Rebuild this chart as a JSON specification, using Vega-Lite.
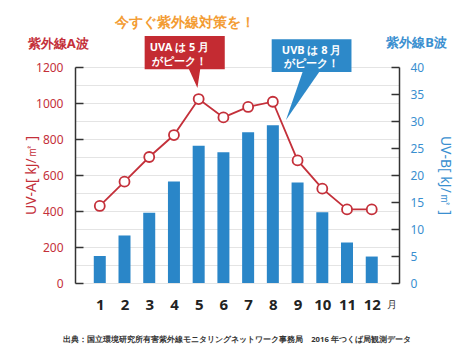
{
  "$schema": "https://vega.github.io/schema/vega-lite/v6.json",
  "width": 324,
  "height": 216,
  "autosize": {"type": "none"},
  "padding": {"left": 75, "top": 67, "right": 75, "bottom": 72},
  "background": "white",
  "config": {
    "font": "Noto Sans",
    "view": {"stroke": null},
    "axisX": {"domain": false, "ticks": false, "grid": false, "labelFontSize": 15, "labelFontWeight": "bold", "labelColor": "#222", "labelPadding": 14, "labelOverlap": false},
    "axisY": {"labelOverlap": false, "format": "d"}
  },
  "datasets": {
    "uv": [
      {"m": 1, "uva": 428, "uvb": 5.0},
      {"m": 2, "uva": 563, "uvb": 8.8},
      {"m": 3, "uva": 700, "uvb": 13.0},
      {"m": 4, "uva": 822, "uvb": 18.8},
      {"m": 5, "uva": 1022, "uvb": 25.4},
      {"m": 6, "uva": 920, "uvb": 24.2},
      {"m": 7, "uva": 978, "uvb": 27.9},
      {"m": 8, "uva": 1007, "uvb": 29.2},
      {"m": 9, "uva": 681, "uvb": 18.6},
      {"m": 10, "uva": 524, "uvb": 13.1},
      {"m": 11, "uva": 409, "uvb": 7.5},
      {"m": 12, "uva": 409, "uvb": 4.9}
    ],
    "one": [{"k": 1}]
  },
  "resolve": {"scale": {"y": "independent"}},
  "layer": [
    {
      "data": {"name": "uv"},
      "mark": {"type": "bar", "size": 12, "color": "#2a86c8"},
      "encoding": {
        "x": {"field": "m", "type": "quantitative", "title": null,
              "scale": {"domain": [0.2, 12.9], "nice": false, "zero": false},
              "axis": {"values": [1,2,3,4,5,6,7,8,9,10,11,12], "tickCount": 30, "format": "d", "labelOverlap": false, "labelFlush": false}},
        "y": {"field": "uvb", "type": "quantitative",
              "scale": {"domain": [0, 40], "nice": false},
              "axis": {"orient": "right", "values": [0,5,10,15,20,25,30,35,40], "tickCount": 30, "format": "d", "grid": false,
                       "labelOverlap": false, "labelFlush": false,
                       "tickSize": -8, "tickColor": "#333", "tickWidth": 1.5,
                       "domainColor": "#333", "domainWidth": 1.5,
                       "labelColor": "#3a8fd0", "labelFontSize": 12, "labelPadding": 19,
                       "title": "UV-B[ kJ/㎡ ]", "titleColor": "#3a8fd0", "titleFontSize": 14,
                       "titleFontWeight": "normal", "titlePadding": 14}}
      }
    },
    {
      "layer": [
        {
          "data": {"name": "uv"},
          "mark": {"type": "line", "color": "#c4303a", "strokeWidth": 1.8},
          "encoding": {
            "x": {"field": "m", "type": "quantitative", "title": null, "scale": {"domain": [0.2, 12.9], "nice": false, "zero": false}},
            "y": {"field": "uva", "type": "quantitative",
                  "scale": {"domain": [0, 1200], "nice": false},
                  "axis": {"orient": "left", "values": [0,100,200,300,400,500,600,700,800,900,1000,1100,1200], "tickCount": 30, "format": "d",
                           "labelExpr": "datum.value % 200 === 0 ? datum.label : ''",
                           "labelOverlap": false, "labelFlush": false,
                           "grid": true, "gridColor": "#e4e4e4", "gridWidth": 1,
                           "tickOpacity": {"condition": {"test": "datum.value % 200 === 0", "value": 1}, "value": 0},
                           "tickSize": -8, "tickColor": "#333", "tickWidth": 1.5,
                           "domainColor": "#333", "domainWidth": 1.5,
                           "labelColor": "#c4303a", "labelFontSize": 12, "labelPadding": 20,
                           "title": "UV-A[ kJ/㎡ ]", "titleColor": "#c4303a", "titleFontSize": 14,
                           "titleFontWeight": "normal", "titlePadding": -3}}
          }
        },
        {
          "data": {"name": "uv"},
          "mark": {"type": "point", "filled": true, "fill": "white", "stroke": "#c4303a", "strokeWidth": 1.8, "size": 100, "opacity": 1},
          "encoding": {
            "x": {"field": "m", "type": "quantitative", "scale": {"domain": [0.2, 12.9], "nice": false, "zero": false}},
            "y": {"field": "uva", "type": "quantitative", "scale": {"domain": [0, 1200], "nice": false}}
          }
        },
        {
          "data": {"name": "one"},
          "mark": {"type": "rect", "color": "#c42b32"},
          "encoding": {
            "x": {"datum": 2.815, "type": "quantitative"},
            "x2": {"datum": 6.055},
            "y": {"datum": 1372, "type": "quantitative"},
            "y2": {"datum": 1187}
          }
        },
        {
          "data": {"name": "one"},
          "mark": {"type": "point", "filled": true, "color": "#c42b32", "opacity": 1, "size": 361, "shape": "M-0.63,-1.1 L0.63,-1.1 L0.32,1 Z"},
          "encoding": {
            "x": {"datum": 4.827, "type": "quantitative"},
            "y": {"datum": 1136, "type": "quantitative"}
          }
        },
        {
          "data": {"name": "one"},
          "mark": {"type": "rect", "color": "#2d89c9"},
          "encoding": {
            "x": {"datum": 7.953, "type": "quantitative"},
            "x2": {"datum": 11.18},
            "y": {"datum": 1354, "type": "quantitative"},
            "y2": {"datum": 1172}
          }
        },
        {
          "data": {"name": "one"},
          "mark": {"type": "point", "filled": true, "color": "#2d89c9", "opacity": 1, "size": 2304, "shape": "M0,-1.05 L0.71,-1.05 L-0.71,1 Z"},
          "encoding": {
            "x": {"datum": 9.22, "type": "quantitative"},
            "y": {"datum": 1039, "type": "quantitative"}
          }
        },
        {
          "data": {"name": "one"},
          "mark": {"type": "text", "text": "UVA は 5 月", "color": "white", "fontSize": 11, "fontWeight": "bold", "align": "center", "baseline": "middle"},
          "encoding": {
            "x": {"datum": 4.22, "type": "quantitative"},
            "y": {"datum": 1305, "type": "quantitative"}
          }
        },
        {
          "data": {"name": "one"},
          "mark": {"type": "text", "text": "がピーク！", "color": "white", "fontSize": 11, "fontWeight": "bold", "align": "center", "baseline": "middle"},
          "encoding": {
            "x": {"datum": 4.22, "type": "quantitative"},
            "y": {"datum": 1230, "type": "quantitative"}
          }
        },
        {
          "data": {"name": "one"},
          "mark": {"type": "text", "text": "UVB は 8 月", "color": "white", "fontSize": 11, "fontWeight": "bold", "align": "center", "baseline": "middle"},
          "encoding": {
            "x": {"datum": 9.57, "type": "quantitative"},
            "y": {"datum": 1290, "type": "quantitative"}
          }
        },
        {
          "data": {"name": "one"},
          "mark": {"type": "text", "text": "がピーク！", "color": "white", "fontSize": 11, "fontWeight": "bold", "align": "center", "baseline": "middle"},
          "encoding": {
            "x": {"datum": 9.57, "type": "quantitative"},
            "y": {"datum": 1215, "type": "quantitative"}
          }
        },
        {
          "data": {"name": "one"},
          "mark": {"type": "text", "text": "紫外線A波", "color": "#c4303a", "fontSize": 13, "fontWeight": "bold", "align": "center", "baseline": "middle"},
          "encoding": {
            "x": {"datum": -0.68, "type": "quantitative"},
            "y": {"datum": 1326, "type": "quantitative"}
          }
        },
        {
          "data": {"name": "one"},
          "mark": {"type": "text", "text": "紫外線B波", "color": "#3a8fd0", "fontSize": 13, "fontWeight": "bold", "align": "center", "baseline": "middle"},
          "encoding": {
            "x": {"datum": 13.81, "type": "quantitative"},
            "y": {"datum": 1332, "type": "quantitative"}
          }
        },
        {
          "data": {"name": "one"},
          "mark": {"type": "text", "text": "今すぐ紫外線対策を！", "color": "#f39c33", "fontSize": 14, "fontWeight": "bold", "align": "center", "baseline": "middle"},
          "encoding": {
            "x": {"datum": 4.435, "type": "quantitative"},
            "y": {"datum": 1446, "type": "quantitative"}
          }
        },
        {
          "data": {"name": "one"},
          "mark": {"type": "text", "text": "月", "color": "#333", "fontSize": 10, "align": "center", "baseline": "middle"},
          "encoding": {
            "x": {"datum": 12.83, "type": "quantitative"},
            "y": {"datum": -122, "type": "quantitative"}
          }
        },
        {
          "data": {"name": "one"},
          "mark": {"type": "text", "text": "出典：国立環境研究所有害紫外線モニタリングネットワーク事務局　2016 年つくば局観測データ", "color": "#333", "fontSize": 7.7, "fontWeight": "bold", "align": "center", "baseline": "middle"},
          "encoding": {
            "x": {"datum": 6.55, "type": "quantitative"},
            "y": {"datum": -317, "type": "quantitative"}
          }
        }
      ]
    }
  ]
}
